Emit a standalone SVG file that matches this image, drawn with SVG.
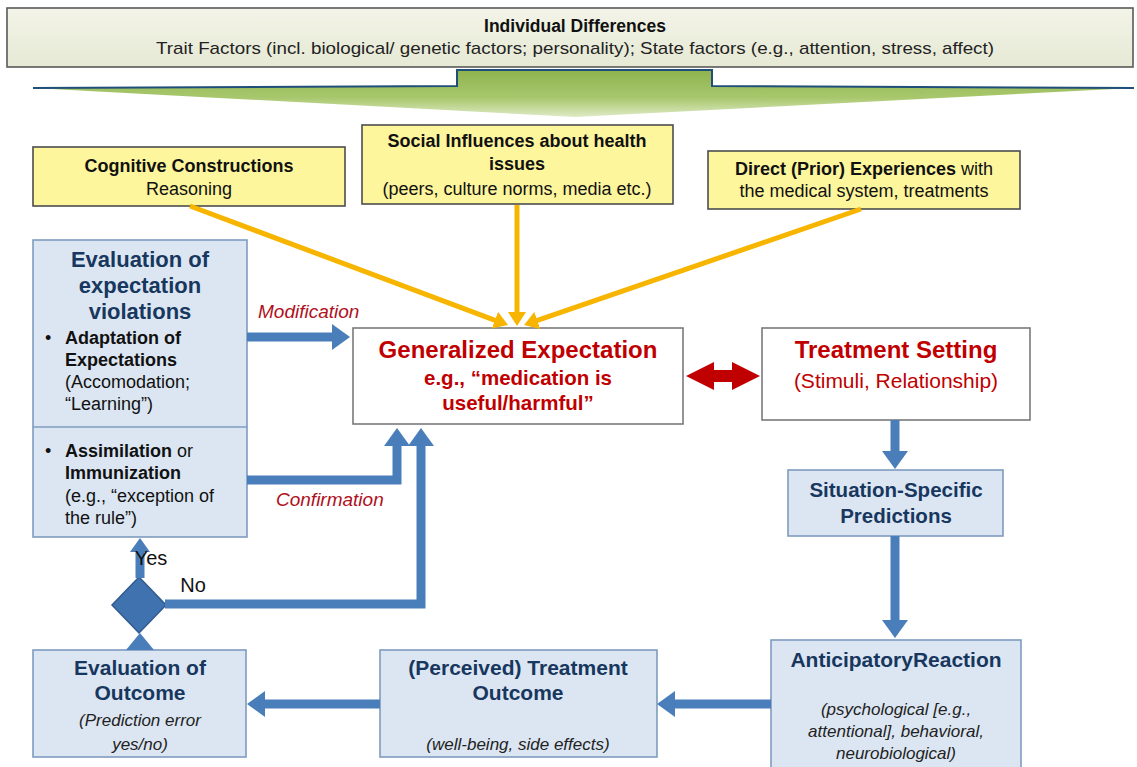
<svg xmlns="http://www.w3.org/2000/svg" width="1137" height="767" viewBox="0 0 1137 767">
<style>
text{font-family:"Liberation Sans",Arial,sans-serif;text-anchor:middle}
.yel{fill:#fdf69c;stroke:#4d4d4d;stroke-width:1.6}
.blu{fill:#dce6f2;stroke:#7f9cc0;stroke-width:1.6}
.wht{fill:#ffffff;stroke:#7a7a7a;stroke-width:1.6}
.yt{font-size:18px;fill:#111}
.b{font-weight:bold}
.nav{fill:#17375e;font-weight:bold}
.red{fill:#c00000}
.lab{font-size:19px;font-style:italic;fill:#b01020;text-anchor:start}
.it{font-style:italic}
.bl{stroke:#4a7ebb;stroke-width:9;fill:none}
.or{stroke:#f7b500;stroke-width:5;fill:none}
.bk{font-size:18px;fill:#111;text-anchor:start}
</style>
<defs>
<linearGradient id="gTop" x1="0" y1="0" x2="0" y2="1">
<stop offset="0" stop-color="#f3f4e8"/><stop offset="1" stop-color="#e6e9d4"/>
</linearGradient>
<linearGradient id="gArr" x1="0" y1="0" x2="0" y2="1">
<stop offset="0" stop-color="#8fb34e"/><stop offset="0.6" stop-color="#a9c86e"/><stop offset="1" stop-color="#dfeac6"/>
</linearGradient>
<marker id="hb" markerUnits="userSpaceOnUse" markerWidth="20" markerHeight="28" refX="8" refY="13" orient="auto">
<path d="M0,0 L18,13 L0,26 z" fill="#4a7ebb"/>
</marker>
<marker id="hbs" markerUnits="userSpaceOnUse" markerWidth="16" markerHeight="22" refX="6" refY="10" orient="auto">
<path d="M0,0 L14,10 L0,20 z" fill="#4a7ebb"/>
</marker>
<marker id="ho" markerUnits="userSpaceOnUse" markerWidth="16" markerHeight="20" refX="6" refY="9" orient="auto">
<path d="M0,0 L14,9 L0,18 z" fill="#f7b500"/>
</marker>
</defs>
<rect width="1137" height="767" fill="#ffffff"/>

<g id="individual-differences">
<rect x="7" y="8" width="1126" height="59" fill="url(#gTop)" stroke="#595959" stroke-width="1.6"/>
<text x="575" y="32" font-size="17.5" font-weight="bold" fill="#111">Individual Differences</text>
<text x="575" y="54" font-size="17" fill="#222" textLength="838" lengthAdjust="spacingAndGlyphs">Trait Factors (incl. biological/ genetic factors; personality); State factors (e.g., attention, stress, affect)</text>
</g>

<g id="big-arrow">
<path d="M457,70 L712,70 L712,86 L1134,88 L575,117 L33,88 L457,86 Z" fill="url(#gArr)"/>
<path d="M33,88 L457,86 L457,70 L712,70 L712,86 L1134,88" fill="none" stroke="#1f4e79" stroke-width="2"/>
</g>

<g id="cognitive">
<rect class="yel" x="33" y="147" width="312" height="59"/>
<text class="yt b" x="189" y="172">Cognitive Constructions</text>
<text class="yt" x="189" y="195">Reasoning</text>
</g>

<g id="social">
<rect class="yel" x="362" y="125" width="311" height="79"/>
<text class="yt b" x="517" y="147">Social Influences about health</text>
<text class="yt b" x="517" y="170">issues</text>
<text class="yt" x="517" y="195" font-size="17">(peers, culture norms, media etc.)</text>
</g>

<g id="direct">
<rect class="yel" x="708" y="151" width="312" height="58"/>
<text class="yt" x="864" y="175"><tspan font-weight="bold">Direct (Prior) Experiences</tspan> with</text>
<text class="yt" x="864" y="197">the medical system, treatments</text>
</g>

<g id="generalized-expectation">
<rect class="wht" x="353" y="328" width="330" height="96"/>
<text class="red b" x="518" y="358" font-size="24">Generalized Expectation</text>
<text class="red b" x="518" y="385" font-size="20.5">e.g., “medication is</text>
<text class="red b" x="518" y="410" font-size="20.5">useful/harmful”</text>
</g>

<g id="treatment-setting">
<rect class="wht" x="762" y="328" width="268" height="92"/>
<text class="red b" x="896" y="358" font-size="24">Treatment Setting</text>
<text class="red" x="896" y="388" font-size="21">(Stimuli, Relationship)</text>
</g>

<g id="evaluation-violations">
<rect class="blu" x="33" y="240" width="214" height="297"/>
<line x1="33" y1="427" x2="247" y2="427" stroke="#7f9cc0" stroke-width="1.6"/>
<text class="nav" x="140" y="267" font-size="22">Evaluation of</text>
<text class="nav" x="140" y="293" font-size="22">expectation</text>
<text class="nav" x="140" y="319" font-size="22">violations</text>
<text class="bk" x="45" y="344">•</text>
<text class="bk b" x="65" y="344">Adaptation of</text>
<text class="bk b" x="65" y="366">Expectations</text>
<text class="bk" x="65" y="388">(Accomodation;</text>
<text class="bk" x="65" y="410">“Learning”)</text>
<text class="bk" x="45" y="457">•</text>
<text class="bk" x="65" y="457"><tspan font-weight="bold">Assimilation</tspan> or</text>
<text class="bk b" x="65" y="479">Immunization</text>
<text class="bk" x="65" y="502">(e.g., “exception of</text>
<text class="bk" x="65" y="524">the rule”)</text>
</g>

<g id="decision">
<polygon points="139,577 166,605 139,633 112,605" fill="#3f72af" stroke="#2f5b8f" stroke-width="1.5"/>
</g>

<g id="situation-specific">
<rect class="blu" x="788" y="470" width="215" height="66"/>
<text class="nav" x="896" y="497" font-size="20.5">Situation-Specific</text>
<text class="nav" x="896" y="523" font-size="20.5">Predictions</text>
</g>

<g id="anticipatory-reaction">
<rect class="blu" x="771" y="640" width="250" height="135"/>
<text class="nav" x="896" y="667" font-size="21">AnticipatoryReaction</text>
<text class="it" x="896" y="715" font-size="17" fill="#222">(psychological [e.g.,</text>
<text class="it" x="896" y="737" font-size="17" fill="#222">attentional], behavioral,</text>
<text class="it" x="896" y="759" font-size="17" fill="#222">neurobiological)</text>
</g>

<g id="perceived-outcome">
<rect class="blu" x="380" y="650" width="277" height="107"/>
<text class="nav" x="518" y="675" font-size="21">(Perceived) Treatment</text>
<text class="nav" x="518" y="700" font-size="21">Outcome</text>
<text class="it" x="518" y="750" font-size="17" fill="#222">(well-being, side effects)</text>
</g>

<g id="evaluation-outcome">
<rect class="blu" x="33" y="650" width="213" height="107"/>
<text class="nav" x="140" y="675" font-size="21">Evaluation of</text>
<text class="nav" x="140" y="700" font-size="21">Outcome</text>
<text class="it" x="140" y="726" font-size="17" fill="#222">(Prediction error</text>
<text class="it" x="140" y="750" font-size="17" fill="#222">yes/no)</text>
</g>

<g id="connectors">
<path class="or" d="M190,206 L500.5,322.3" marker-end="url(#ho)"/>
<path class="or" d="M517,205 L517,318" marker-end="url(#ho)"/>
<path class="or" d="M861,209 L531.6,322.4" marker-end="url(#ho)"/>
<path class="bl" d="M247,337 L340,337" marker-end="url(#hb)"/>
<path class="bl" d="M247,480 L397,480 L397,438" marker-end="url(#hb)"/>
<path class="bl" d="M165,604 L421,604 L421,438" marker-end="url(#hb)"/>
<path class="bl" d="M140,578 L140,546" marker-end="url(#hbs)"/>
<polygon points="126,650 154,650 140,633" fill="#4a7ebb"/>
<path class="bl" d="M895,420 L895,459" marker-end="url(#hb)"/>
<path class="bl" d="M895,536 L895,628" marker-end="url(#hb)"/>
<path class="bl" d="M771,704 L667,704" marker-end="url(#hb)"/>
<path class="bl" d="M380,704 L257,704" marker-end="url(#hb)"/>
<polygon points="686,376 714,362 714,370 732,370 732,362 760,376 732,390 732,382 714,382 714,390" fill="#c00000"/>
<text class="lab" x="258" y="318">Modification</text>
<text class="lab" x="276" y="506">Confirmation</text>
<text x="151" y="565" font-size="20" fill="#111" text-anchor="start">Yes</text>
<text x="193" y="592" font-size="20" fill="#111" text-anchor="start">No</text>
</g>
</svg>
